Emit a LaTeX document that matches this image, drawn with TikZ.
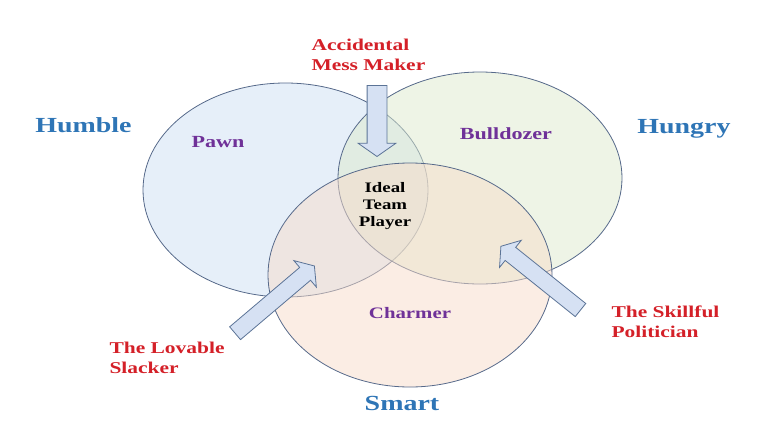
\documentclass[tikz,border=0pt]{standalone}
\usepackage{fontspec}
\setmainfont{Liberation Serif}[FakeStretch=1.3]
\usetikzlibrary{shapes.arrows}

\definecolor{vennblue}{HTML}{CDDFF3}
\definecolor{venngreen}{HTML}{DDEACD}
\definecolor{vennorange}{HTML}{F7DBC9}
\definecolor{vennline}{HTML}{56698A}
\definecolor{arrowfill}{HTML}{D6E1F3}
\definecolor{arrowline}{HTML}{5B7396}
\definecolor{traitblue}{HTML}{2E75B6}
\definecolor{typepurple}{HTML}{6F3198}
\definecolor{tagred}{HTML}{D42028}

\begin{document}
\begin{tikzpicture}[x=1pt, y=-1pt,
  venn/.style={draw=vennline, line width=0.8pt, fill opacity=0.5},
  pointer/.style={single arrow, draw=arrowline, fill=arrowfill, line width=0.8pt,
    inner xsep=0pt, single arrow tip angle=110, single arrow head indent=0pt},
  trait/.style={text=traitblue, font=\bfseries\fontsize{21.5}{24}\selectfont},
  type/.style={text=typepurple, font=\bfseries\fontsize{17}{20}\selectfont},
  tag/.style={text=tagred, align=left, font=\bfseries\fontsize{16.5}{19.5}\selectfont}]
  \useasboundingbox (0,0) rectangle (761,437);

  % the three circles
  \draw[venn, fill=vennblue] (285.5,190) ellipse [x radius=142.5, y radius=107];
  \draw[venn, fill=venngreen] (480,178) ellipse [x radius=142, y radius=106];
  \draw[venn, fill=vennorange] (410,275) ellipse [x radius=142, y radius=112];

  % block arrows
  \node[pointer, inner ysep=9.5pt, single arrow head extend=9pt,
    minimum height=71pt, rotate=-90] (messarrow) at (377,117.5) {};
  \node[pointer, inner ysep=8pt, single arrow head extend=9pt,
    minimum height=104pt, rotate=40.3] (slackerarrow) at (272.5,301.5) {};
  \node[pointer, inner ysep=8pt, single arrow head extend=9pt,
    minimum height=102pt, rotate=141.3] (politicianarrow) at (543,280) {};

  % traits
  \node[trait, anchor=base] (humble) at (83.5,132) {Humble};
  \node[trait, anchor=base] (hungry) at (684,133) {Hungry};
  \node[trait, anchor=base] (smart) at (402,410) {Smart};

  % types inside the circles
  \node[type, anchor=base] (pawn) at (218,147) {Pawn};
  \node[type, anchor=base] (bulldozer) at (506,139) {Bulldozer};
  \node[type, font=\bfseries\fontsize{16}{19}\selectfont, anchor=base] (charmer) at (410,318) {Charmer};
  \node[align=center, font=\bfseries\fontsize{14.5}{17}\selectfont, anchor=base] (ideal) at (385,226) {Ideal\\Team\\Player};

  % labels for the arrows (base = last line)
  \node[tag, anchor=base west] (mess) at (308,70) {Accidental\\Mess Maker};
  \node[tag, anchor=base west] (slacker) at (106,373) {The Lovable\\Slacker};
  \node[tag, anchor=base west] (politician) at (608,337) {The Skillful\\Politician};
\end{tikzpicture}
\end{document}
